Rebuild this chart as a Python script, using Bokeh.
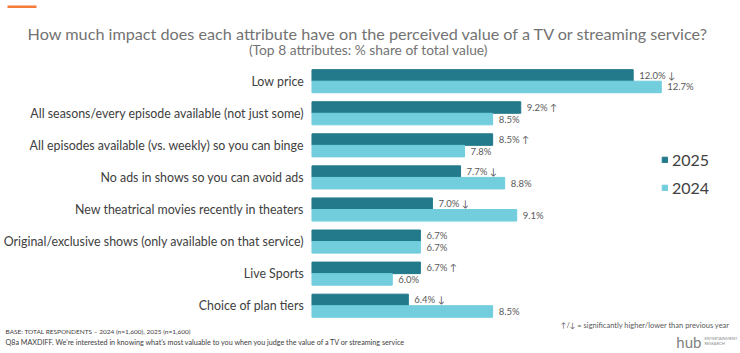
from bokeh.plotting import figure
from bokeh.models import Range1d, ColumnDataSource, Label, BoxAnnotation, Legend, LegendItem
from bokeh.core.properties import value
from bokeh.embed import file_html
from bokeh.resources import INLINE

categories = [
    "Low price",
    "All seasons/every episode available (not just some)",
    "All episodes available (vs. weekly) so you can binge",
    "No ads in shows so you can avoid ads",
    "New theatrical movies recently in theaters",
    "Original/exclusive shows (only available on that service)",
    "Live Sports",
    "Choice of plan tiers",
]
values_2025 = [12.0, 9.2, 8.5, 7.7, 7.0, 6.7, 6.7, 6.4]
values_2024 = [12.7, 8.5, 7.8, 8.8, 9.1, 6.7, 6.0, 8.5]
sig_2025 = ["\u2193", "\u2191", "\u2191", "\u2193", "\u2193", "", "\u2191", "\u2193"]
series_names = ["2025", "2024"]

C25 = "#227A8B"
C24 = "#72CDDD"
FONT = "Lato"
W, H = 740, 353
BASE = 4.0

idx = list(range(len(categories)))
lab25 = [f"{v:.1f}%" + (f" {s}" if s else "") for v, s in zip(values_2025, sig_2025)]
lab24 = [f"{v:.1f}%" for v in values_2024]

src25 = ColumnDataSource(dict(y=[i - 0.18 for i in idx], v=values_2025, lab=lab25))
src24 = ColumnDataSource(dict(y=[i + 0.18 for i in idx], v=values_2024, lab=lab24))
srccat = ColumnDataSource(dict(y=idx, cat=categories))

p = figure(width=W, height=H, output_backend="svg", toolbar_location=None,
           x_range=Range1d(-3.758, 14.673), y_range=Range1d(8.49, -2.516),
           min_border=0, min_border_left=0, min_border_right=0,
           min_border_top=0, min_border_bottom=0)
p.axis.visible = False
p.grid.visible = False
p.outline_line_color = None
p.background_fill_color = "white"

r25 = p.hbar(y="y", left=BASE, right="v", height=0.36, color=C25, source=src25)
r24 = p.hbar(y="y", left=BASE, right="v", height=0.36, color=C24, source=src24)

for s in (src25, src24):
    p.text(x="v", y="y", text="lab", source=s, x_offset=6, text_baseline="middle",
           text_align="left", text_font=value(FONT), text_font_size="9.5px",
           text_color="#595959")

p.text(x=BASE, y="y", text="cat", source=srccat, x_offset=-8, text_align="right",
       text_baseline="middle", text_font=value(FONT), text_font_size="12.4px", text_color="#404040")

legend = Legend(items=[LegendItem(label=series_names[0], renderers=[r25]),
                       LegendItem(label=series_names[1], renderers=[r24])],
                location=(661, 156), orientation="vertical",
                label_text_font=FONT, label_text_font_size="16px", label_text_color="#404040",
                glyph_width=7, glyph_height=7, spacing=9, padding=0, margin=0,
                border_line_color=None, background_fill_alpha=0, label_standoff=4)
p.add_layout(legend, "center")

# orange accent line
p.add_layout(BoxAnnotation(left=7, right=36, top=H - 5, bottom=H - 7.5,
                           left_units="screen", right_units="screen",
                           top_units="screen", bottom_units="screen",
                           fill_color="#F47B3A", fill_alpha=1, line_color=None))

def lab(x, y, text, size, color="#595959", align="left", font=FONT, style="normal"):
    p.add_layout(Label(x=x, y=H - y, x_units="screen", y_units="screen", text=text,
                       text_align=align, text_baseline="middle", text_font=font,
                       text_font_size=size, text_color=color, text_font_style=style))

lab(368, 33, "How much impact does each attribute have on the perceived value of a TV or streaming service?",
    "16.2px", "#737373", "center")
lab(368, 48.5, "(Top 8 attributes: % share of total value)", "13.8px", "#737373", "center")
lab(5, 331, "BASE: TOTAL RESPONDENTS \u2013 2024 (n=1,600), 2025 (n=1,600)", "6.5px", "#404040")
lab(5, 342, "Q8a MAXDIFF. We\u2019re interested in knowing what\u2019s most valuable to you when you judge the value of a TV or streaming service",
    "7.2px", "#404040")
lab(731, 325, "\u2191/\u2193  = significantly higher/lower than previous year", "7.5px", "#595959", "right")
lab(701, 341, "hub", "15px", "#808080", "right")
lab(704, 338, "ENTERTAINMENT", "4px", "#8a8a8a")
lab(704, 343, "RESEARCH", "4px", "#8a8a8a")

open("out.html", "w").write(file_html(p, INLINE))
